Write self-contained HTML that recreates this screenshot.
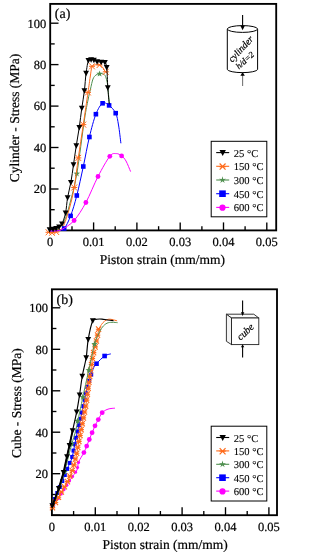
<!DOCTYPE html>
<html><head><meta charset="utf-8"><style>
html,body{margin:0;padding:0;background:#fff;}
svg{display:block;will-change:transform;text-rendering:geometricPrecision;}
</style></head><body>
<svg width="306" height="558" viewBox="0 0 306 558" font-family='"Liberation Serif", serif'>
<style>text{stroke:#000;stroke-width:0.2px;}</style>
<path d="M50.2,230.4H58.5" stroke="#000" stroke-width="1.35"/>
<path d="M50.2,209.7H54.7" stroke="#000" stroke-width="1.35"/>
<path d="M50.2,189.0H58.5" stroke="#000" stroke-width="1.35"/>
<text transform="translate(46.300000000000004,193.3) skewX(0.05)"   text-anchor="end" font-size="12.5">20</text>
<path d="M50.2,168.2H54.7" stroke="#000" stroke-width="1.35"/>
<path d="M50.2,147.5H58.5" stroke="#000" stroke-width="1.35"/>
<text transform="translate(46.300000000000004,151.8) skewX(0.05)"   text-anchor="end" font-size="12.5">40</text>
<path d="M50.2,126.8H54.7" stroke="#000" stroke-width="1.35"/>
<path d="M50.2,106.1H58.5" stroke="#000" stroke-width="1.35"/>
<text transform="translate(46.300000000000004,110.4) skewX(0.05)"   text-anchor="end" font-size="12.5">60</text>
<path d="M50.2,85.4H54.7" stroke="#000" stroke-width="1.35"/>
<path d="M50.2,64.6H58.5" stroke="#000" stroke-width="1.35"/>
<text transform="translate(46.300000000000004,68.9) skewX(0.05)"   text-anchor="end" font-size="12.5">80</text>
<path d="M50.2,43.9H54.7" stroke="#000" stroke-width="1.35"/>
<path d="M50.2,23.2H58.5" stroke="#000" stroke-width="1.35"/>
<text transform="translate(46.300000000000004,27.5) skewX(0.05)"   text-anchor="end" font-size="12.5">100</text>
<text transform="translate(50.2,245.9) skewX(0.05)"   text-anchor="middle" font-size="12.5">0</text>
<path d="M72.0,230.4V226.20000000000002" stroke="#000" stroke-width="1.35"/>
<path d="M93.6,230.4V222.4" stroke="#000" stroke-width="1.35"/>
<text transform="translate(93.6,245.9) skewX(0.05)"   text-anchor="middle" font-size="12.5">0.01</text>
<path d="M115.2,230.4V226.20000000000002" stroke="#000" stroke-width="1.35"/>
<path d="M136.9,230.4V222.4" stroke="#000" stroke-width="1.35"/>
<text transform="translate(136.9,245.9) skewX(0.05)"   text-anchor="middle" font-size="12.5">0.02</text>
<path d="M158.6,230.4V226.20000000000002" stroke="#000" stroke-width="1.35"/>
<path d="M180.2,230.4V222.4" stroke="#000" stroke-width="1.35"/>
<text transform="translate(180.2,245.9) skewX(0.05)"   text-anchor="middle" font-size="12.5">0.03</text>
<path d="M201.9,230.4V226.20000000000002" stroke="#000" stroke-width="1.35"/>
<path d="M223.5,230.4V222.4" stroke="#000" stroke-width="1.35"/>
<text transform="translate(223.5,245.9) skewX(0.05)"   text-anchor="middle" font-size="12.5">0.04</text>
<path d="M245.1,230.4V226.20000000000002" stroke="#000" stroke-width="1.35"/>
<path d="M266.8,230.4V222.4" stroke="#000" stroke-width="1.35"/>
<text transform="translate(266.8,245.9) skewX(0.05)"   text-anchor="middle" font-size="12.5">0.05</text>
<rect x="50.2" y="3.9" width="226.0" height="226.5" fill="none" stroke="#000" stroke-width="1.85"/>
<text transform="translate(162.4,263.9) skewX(0.05)"   text-anchor="middle" font-size="13.5">Piston strain (mm/mm)</text>
<text transform="translate(19.3,118.0) rotate(-90) skewX(0.05)" text-anchor="middle" font-size="13.5">Cylinder - Stress (MPa)</text>
<text transform="translate(54.800000000000004,18.2) skewX(0.05)"   font-size="14">(a)</text>
<path d="M50.0,231.0 C51.3,230.7 55.5,231.0 58.0,229.0 C60.5,227.0 63.0,223.3 65.0,219.0 C67.0,214.7 68.0,210.6 70.0,203.0 C72.0,195.4 74.4,187.5 76.8,173.7 C79.2,159.9 82.5,132.3 84.4,120.0 C86.3,107.7 87.0,105.2 88.0,100.0 C89.0,94.8 89.7,92.5 90.5,89.0 C91.3,85.5 92.1,81.3 93.0,79.0 C93.9,76.7 94.9,75.9 96.0,75.0 C97.1,74.1 98.4,73.7 99.6,73.5 C100.8,73.3 102.0,73.5 103.0,74.0 C104.0,74.5 104.8,74.6 105.5,76.3 C106.2,78.0 107.0,81.2 107.5,84.0 C108.0,86.8 108.1,89.8 108.4,93.0 C108.7,96.2 109.2,101.6 109.3,103.3" stroke="#4f8f4f" stroke-width="1.0" fill="none" stroke-linejoin="round"/>
<polygon points="76.80,170.30 77.62,172.57 80.03,172.65 78.13,174.13 78.80,176.45 76.80,175.10 74.80,176.45 75.47,174.13 73.57,172.65 75.98,172.57" fill="#4f8f4f"/>
<polygon points="99.60,70.40 100.42,72.67 102.83,72.75 100.93,74.23 101.60,76.55 99.60,75.20 97.60,76.55 98.27,74.23 96.37,72.75 98.78,72.67" fill="#4f8f4f"/>
<path d="M48.5,232.0 C49.1,232.1 50.6,232.6 51.9,232.5 C53.2,232.4 54.5,232.3 56.3,231.5 C58.1,230.7 60.5,231.4 62.7,227.5 C64.9,223.6 67.6,214.7 69.5,208.0 C71.4,201.3 72.7,195.8 74.2,187.5 C75.7,179.2 76.8,168.4 78.3,157.9 C79.8,147.4 81.7,135.5 83.3,124.6 C84.9,113.7 86.8,100.3 88.0,92.4 C89.2,84.5 89.5,81.2 90.2,77.0 C90.9,72.8 91.1,69.0 92.0,67.0 C92.9,65.0 94.2,65.1 95.5,64.8 C96.8,64.5 98.2,64.5 99.5,65.0 C100.8,65.5 102.0,66.6 103.0,67.8 C104.0,69.0 104.9,71.4 105.3,72.1" stroke="#ff6a1a" stroke-width="1.0" fill="none" stroke-linejoin="round"/>
<path d="M45.50,232.30H51.50M45.65,229.30L51.35,235.30M45.65,235.30L51.35,229.30" stroke="#ff6a1a" stroke-width="1.0" fill="none"/>
<path d="M48.90,232.80H54.90M49.05,229.80L54.75,235.80M49.05,235.80L54.75,229.80" stroke="#ff6a1a" stroke-width="1.0" fill="none"/>
<path d="M53.30,232.00H59.30M53.45,229.00L59.15,235.00M53.45,235.00L59.15,229.00" stroke="#ff6a1a" stroke-width="1.0" fill="none"/>
<path d="M71.20,187.50H77.20M71.35,184.50L77.05,190.50M71.35,190.50L77.05,184.50" stroke="#ff6a1a" stroke-width="1.0" fill="none"/>
<path d="M75.30,157.90H81.30M75.45,154.90L81.15,160.90M75.45,160.90L81.15,154.90" stroke="#ff6a1a" stroke-width="1.0" fill="none"/>
<path d="M80.30,124.60H86.30M80.45,121.60L86.15,127.60M80.45,127.60L86.15,121.60" stroke="#ff6a1a" stroke-width="1.0" fill="none"/>
<path d="M85.00,92.40H91.00M85.15,89.40L90.85,95.40M85.15,95.40L90.85,89.40" stroke="#ff6a1a" stroke-width="1.0" fill="none"/>
<path d="M89.00,66.30H95.00M89.15,63.30L94.85,69.30M89.15,69.30L94.85,63.30" stroke="#ff6a1a" stroke-width="1.0" fill="none"/>
<path d="M96.50,65.00H102.50M96.65,62.00L102.35,68.00M96.65,68.00L102.35,62.00" stroke="#ff6a1a" stroke-width="1.0" fill="none"/>
<path d="M102.80,71.80H108.80M102.95,68.80L108.65,74.80M102.95,74.80L108.65,68.80" stroke="#ff6a1a" stroke-width="1.0" fill="none"/>
<path d="M50.0,231.0 C51.3,230.9 55.6,230.9 58.0,230.5 C60.4,230.1 62.1,230.9 64.2,228.5 C66.3,226.1 68.5,221.4 70.6,215.9 C72.7,210.4 74.7,203.7 76.8,195.5 C78.9,187.3 81.2,176.2 83.3,166.5 C85.4,156.8 87.3,145.7 89.4,137.0 C91.5,128.3 93.7,119.8 95.9,114.2 C98.1,108.6 100.4,104.8 102.6,103.3 C104.8,101.8 106.9,103.8 109.1,105.4 C111.3,107.1 114.1,109.9 115.7,113.2 C117.3,116.5 117.6,120.0 118.5,125.0 C119.4,130.0 120.5,140.2 120.9,143.3" stroke="#0000ff" stroke-width="1.0" fill="none" stroke-linejoin="round"/>
<rect x="61.9" y="226.2" width="4.6" height="4.6" fill="#0000ff"/>
<rect x="68.3" y="213.6" width="4.6" height="4.6" fill="#0000ff"/>
<rect x="74.5" y="193.2" width="4.6" height="4.6" fill="#0000ff"/>
<rect x="81.0" y="164.2" width="4.6" height="4.6" fill="#0000ff"/>
<rect x="87.1" y="134.7" width="4.6" height="4.6" fill="#0000ff"/>
<rect x="93.6" y="111.9" width="4.6" height="4.6" fill="#0000ff"/>
<rect x="100.3" y="101.0" width="4.6" height="4.6" fill="#0000ff"/>
<rect x="106.8" y="103.1" width="4.6" height="4.6" fill="#0000ff"/>
<rect x="113.4" y="110.9" width="4.6" height="4.6" fill="#0000ff"/>
<path d="M50.0,231.0 C51.0,231.0 54.0,231.1 56.0,230.8 C58.0,230.6 58.7,231.2 61.7,229.5 C64.7,227.8 70.1,225.0 74.1,220.5 C78.1,216.0 81.9,209.8 85.9,202.5 C89.9,195.2 94.0,184.2 98.0,176.5 C102.0,168.8 106.8,160.1 109.8,156.3 C112.8,152.5 114.3,153.7 116.3,153.6 C118.3,153.5 120.0,154.7 121.6,155.9 C123.2,157.1 124.5,158.4 126.0,161.0 C127.5,163.6 129.8,169.8 130.6,171.6" stroke="#ff00ff" stroke-width="1.0" fill="none" stroke-linejoin="round"/>
<circle cx="74.1" cy="220.5" r="2.4" fill="#ff00ff"/>
<circle cx="85.9" cy="202.5" r="2.4" fill="#ff00ff"/>
<circle cx="98.0" cy="176.5" r="2.4" fill="#ff00ff"/>
<circle cx="109.8" cy="156.3" r="2.4" fill="#ff00ff"/>
<circle cx="121.6" cy="155.9" r="2.4" fill="#ff00ff"/>
<path d="M49.6,229.6 C50.2,229.5 52.0,229.3 53.1,229.1 C54.2,228.9 55.1,228.6 56.1,228.2 C57.1,227.8 58.1,227.5 59.1,226.8 C60.1,226.1 60.9,226.1 62.0,223.8 C63.1,221.5 64.7,217.2 65.6,212.8 C66.5,208.4 66.7,202.7 67.6,197.6 C68.5,192.5 69.9,187.7 70.9,182.2 C71.9,176.7 72.6,170.7 73.5,164.6 C74.4,158.5 75.3,151.7 76.3,145.5 C77.3,139.3 78.4,133.4 79.3,127.2 C80.2,121.0 80.9,114.2 81.8,108.1 C82.7,102.0 83.7,96.3 84.4,90.5 C85.1,84.7 85.4,78.0 86.1,73.0 C86.8,68.0 87.6,62.5 88.4,60.3 C89.2,58.1 90.2,59.6 91.1,59.6 C92.0,59.6 92.9,59.7 93.9,60.0 C94.9,60.3 95.9,61.3 97.1,61.6 C98.3,61.9 99.9,61.9 101.2,62.0 C102.5,62.1 104.0,61.5 104.9,62.4 C105.8,63.3 106.2,63.1 106.7,67.3 C107.2,71.5 107.4,81.3 107.8,87.5 C108.2,93.7 109.0,101.5 109.3,104.3" stroke="#000" stroke-width="1.0" fill="none" stroke-linejoin="round"/>
<path d="M46.70,227.28L52.50,227.28L49.60,232.79Z" fill="#000"/>
<path d="M50.20,226.78L56.00,226.78L53.10,232.29Z" fill="#000"/>
<path d="M53.20,225.88L59.00,225.88L56.10,231.39Z" fill="#000"/>
<path d="M56.20,224.48L62.00,224.48L59.10,229.99Z" fill="#000"/>
<path d="M59.10,221.48L64.90,221.48L62.00,226.99Z" fill="#000"/>
<path d="M62.70,210.48L68.50,210.48L65.60,215.99Z" fill="#000"/>
<path d="M64.70,195.28L70.50,195.28L67.60,200.79Z" fill="#000"/>
<path d="M68.00,179.88L73.80,179.88L70.90,185.39Z" fill="#000"/>
<path d="M70.60,162.28L76.40,162.28L73.50,167.79Z" fill="#000"/>
<path d="M73.40,143.18L79.20,143.18L76.30,148.69Z" fill="#000"/>
<path d="M76.40,124.88L82.20,124.88L79.30,130.39Z" fill="#000"/>
<path d="M78.90,105.78L84.70,105.78L81.80,111.29Z" fill="#000"/>
<path d="M81.50,88.18L87.30,88.18L84.40,93.69Z" fill="#000"/>
<path d="M83.20,70.68L89.00,70.68L86.10,76.19Z" fill="#000"/>
<path d="M85.50,57.98L91.30,57.98L88.40,63.49Z" fill="#000"/>
<path d="M88.20,57.28L94.00,57.28L91.10,62.79Z" fill="#000"/>
<path d="M91.00,57.68L96.80,57.68L93.90,63.19Z" fill="#000"/>
<path d="M94.20,59.28L100.00,59.28L97.10,64.79Z" fill="#000"/>
<path d="M98.30,59.68L104.10,59.68L101.20,65.19Z" fill="#000"/>
<path d="M102.00,60.08L107.80,60.08L104.90,65.59Z" fill="#000"/>
<path d="M103.80,64.98L109.60,64.98L106.70,70.49Z" fill="#000"/>
<path d="M104.90,85.18L110.70,85.18L107.80,90.69Z" fill="#000"/>
<rect x="211.2" y="141.3" width="55.6" height="75.5" fill="#fff" stroke="#000" stroke-width="1"/>
<path d="M216.2,152.6H229.2" stroke="#000" stroke-width="1.1"/>
<path d="M219.50,150.04L225.90,150.04L222.70,156.12Z" fill="#000"/>
<text transform="translate(233.7,156.6) skewX(0.05)"   font-size="10.6" style="stroke-width:0.1px">25 °C</text>
<path d="M216.2,166.3H229.2" stroke="#ff6a1a" stroke-width="1.1"/>
<path d="M219.50,166.60H225.70M219.66,163.50L225.54,169.70M219.66,169.70L225.54,163.50" stroke="#ff6a1a" stroke-width="1.2" fill="none"/>
<text transform="translate(233.7,170.3) skewX(0.05)"   font-size="10.6" style="stroke-width:0.1px">150 °C</text>
<path d="M216.2,180.0H229.2" stroke="#4f8f4f" stroke-width="1.1"/>
<polygon points="222.50,176.30 223.26,178.95 226.02,178.86 223.74,180.40 224.67,182.99 222.50,181.30 220.33,182.99 221.26,180.40 218.98,178.86 221.74,178.95" fill="#4f8f4f"/>
<text transform="translate(233.7,184.0) skewX(0.05)"   font-size="10.6" style="stroke-width:0.1px">300 °C</text>
<path d="M216.2,193.7H229.2" stroke="#0000ff" stroke-width="1.1"/>
<rect x="219.2" y="190.4" width="6.6" height="6.6" fill="#0000ff"/>
<text transform="translate(233.7,197.7) skewX(0.05)"   font-size="10.6" style="stroke-width:0.1px">450 °C</text>
<path d="M216.2,207.4H229.2" stroke="#ff00ff" stroke-width="1.1"/>
<circle cx="222.5" cy="207.7" r="3.1" fill="#ff00ff"/>
<text transform="translate(233.7,211.4) skewX(0.05)"   font-size="10.6" style="stroke-width:0.1px">600 °C</text>
<path d="M51.9,515.2H60.2" stroke="#000" stroke-width="1.35"/>
<path d="M51.9,494.5H56.4" stroke="#000" stroke-width="1.35"/>
<path d="M51.9,473.7H60.2" stroke="#000" stroke-width="1.35"/>
<text transform="translate(48.0,478.0) skewX(0.05)"   text-anchor="end" font-size="12.5">20</text>
<path d="M51.9,453.0H56.4" stroke="#000" stroke-width="1.35"/>
<path d="M51.9,432.2H60.2" stroke="#000" stroke-width="1.35"/>
<text transform="translate(48.0,436.5) skewX(0.05)"   text-anchor="end" font-size="12.5">40</text>
<path d="M51.9,411.5H56.4" stroke="#000" stroke-width="1.35"/>
<path d="M51.9,390.8H60.2" stroke="#000" stroke-width="1.35"/>
<text transform="translate(48.0,395.1) skewX(0.05)"   text-anchor="end" font-size="12.5">60</text>
<path d="M51.9,370.0H56.4" stroke="#000" stroke-width="1.35"/>
<path d="M51.9,349.3H60.2" stroke="#000" stroke-width="1.35"/>
<text transform="translate(48.0,353.6) skewX(0.05)"   text-anchor="end" font-size="12.5">80</text>
<path d="M51.9,328.5H56.4" stroke="#000" stroke-width="1.35"/>
<path d="M51.9,307.8H60.2" stroke="#000" stroke-width="1.35"/>
<text transform="translate(48.0,312.1) skewX(0.05)"   text-anchor="end" font-size="12.5">100</text>
<text transform="translate(51.9,530.7) skewX(0.05)"   text-anchor="middle" font-size="12.5">0</text>
<path d="M73.6,515.2V511.00000000000006" stroke="#000" stroke-width="1.35"/>
<path d="M95.3,515.2V507.20000000000005" stroke="#000" stroke-width="1.35"/>
<text transform="translate(95.3,530.7) skewX(0.05)"   text-anchor="middle" font-size="12.5">0.01</text>
<path d="M117.0,515.2V511.00000000000006" stroke="#000" stroke-width="1.35"/>
<path d="M138.7,515.2V507.20000000000005" stroke="#000" stroke-width="1.35"/>
<text transform="translate(138.7,530.7) skewX(0.05)"   text-anchor="middle" font-size="12.5">0.02</text>
<path d="M160.4,515.2V511.00000000000006" stroke="#000" stroke-width="1.35"/>
<path d="M182.1,515.2V507.20000000000005" stroke="#000" stroke-width="1.35"/>
<text transform="translate(182.1,530.7) skewX(0.05)"   text-anchor="middle" font-size="12.5">0.03</text>
<path d="M203.8,515.2V511.00000000000006" stroke="#000" stroke-width="1.35"/>
<path d="M225.5,515.2V507.20000000000005" stroke="#000" stroke-width="1.35"/>
<text transform="translate(225.5,530.7) skewX(0.05)"   text-anchor="middle" font-size="12.5">0.04</text>
<path d="M247.2,515.2V511.00000000000006" stroke="#000" stroke-width="1.35"/>
<path d="M268.9,515.2V507.20000000000005" stroke="#000" stroke-width="1.35"/>
<text transform="translate(268.9,530.7) skewX(0.05)"   text-anchor="middle" font-size="12.5">0.05</text>
<rect x="51.9" y="289.3" width="225.1" height="225.90000000000003" fill="none" stroke="#000" stroke-width="1.85"/>
<text transform="translate(165.2,548.7) skewX(0.05)"   text-anchor="middle" font-size="13.5">Piston strain (mm/mm)</text>
<text transform="translate(21.0,403.1) rotate(-90) skewX(0.05)" text-anchor="middle" font-size="13.5">Cube - Stress (MPa)</text>
<text transform="translate(56.5,303.6) skewX(0.05)"   font-size="14">(b)</text>
<path d="M52.0,507.5 C52.6,506.8 54.0,505.2 55.5,503.0 C57.0,500.8 58.5,498.3 60.9,494.5 C63.3,490.7 67.3,484.1 70.0,480.0 C72.7,475.9 75.6,473.0 77.0,470.0 C78.4,467.0 77.4,464.9 78.6,462.0 C79.8,459.1 82.6,455.2 83.9,452.6 C85.2,450.0 85.8,448.3 86.7,446.1 C87.6,443.9 88.4,441.7 89.3,439.5 C90.2,437.3 91.1,435.0 92.1,432.7 C93.0,430.4 94.0,428.0 95.0,425.8 C96.0,423.6 97.1,421.8 98.3,419.6 C99.5,417.4 100.8,414.4 102.2,412.7 C103.7,411.0 105.5,410.2 107.0,409.5 C108.5,408.8 109.7,408.7 111.0,408.5 C112.3,408.3 114.3,408.2 115.0,408.2" stroke="#ff00ff" stroke-width="1.0" fill="none" stroke-linejoin="round"/>
<circle cx="55.7" cy="502.7" r="1.6" fill="#ff00ff"/>
<circle cx="58.4" cy="498.4" r="1.6" fill="#ff00ff"/>
<circle cx="61.2" cy="494.0" r="1.6" fill="#ff00ff"/>
<circle cx="64.0" cy="489.6" r="1.6" fill="#ff00ff"/>
<circle cx="66.8" cy="485.2" r="1.6" fill="#ff00ff"/>
<circle cx="69.5" cy="480.8" r="1.6" fill="#ff00ff"/>
<circle cx="72.5" cy="476.5" r="1.6" fill="#ff00ff"/>
<circle cx="75.5" cy="472.2" r="1.6" fill="#ff00ff"/>
<circle cx="77.5" cy="467.5" r="1.6" fill="#ff00ff"/>
<circle cx="78.5" cy="462.4" r="1.6" fill="#ff00ff"/>
<circle cx="83.9" cy="452.6" r="2.4" fill="#ff00ff"/>
<circle cx="86.7" cy="446.1" r="2.4" fill="#ff00ff"/>
<circle cx="89.3" cy="439.5" r="2.4" fill="#ff00ff"/>
<circle cx="92.1" cy="432.7" r="2.4" fill="#ff00ff"/>
<circle cx="95.0" cy="425.8" r="2.4" fill="#ff00ff"/>
<circle cx="98.3" cy="419.6" r="2.4" fill="#ff00ff"/>
<circle cx="102.2" cy="412.7" r="2.4" fill="#ff00ff"/>
<path d="M52.0,507.0 C52.6,505.2 54.2,500.8 55.9,496.5 C57.6,492.2 60.3,485.8 62.3,481.0 C64.2,476.2 65.9,472.0 67.6,468.0 C69.2,464.0 70.8,462.1 72.2,457.0 C73.6,451.9 74.6,444.3 76.1,437.6 C77.6,430.9 79.7,422.7 81.0,416.8 C82.3,410.9 83.1,407.1 84.2,402.0 C85.3,396.9 86.0,391.4 87.5,386.0 C89.0,380.6 91.4,373.2 92.9,369.5 C94.4,365.8 94.5,365.9 96.5,363.7 C98.5,361.4 102.2,357.6 104.6,356.0 C107.0,354.4 109.8,354.2 110.8,353.9" stroke="#0000ff" stroke-width="1.0" fill="none" stroke-linejoin="round"/>
<rect x="50.7" y="503.1" width="4.0" height="4.0" fill="#0000ff"/>
<rect x="53.0" y="497.0" width="4.0" height="4.0" fill="#0000ff"/>
<rect x="55.3" y="491.0" width="4.0" height="4.0" fill="#0000ff"/>
<rect x="57.8" y="485.0" width="4.0" height="4.0" fill="#0000ff"/>
<rect x="60.3" y="479.0" width="4.0" height="4.0" fill="#0000ff"/>
<rect x="62.8" y="473.0" width="4.0" height="4.0" fill="#0000ff"/>
<rect x="65.2" y="466.9" width="4.0" height="4.0" fill="#0000ff"/>
<rect x="67.7" y="460.9" width="4.0" height="4.0" fill="#0000ff"/>
<rect x="70.2" y="454.9" width="4.0" height="4.0" fill="#0000ff"/>
<rect x="71.5" y="448.6" width="4.0" height="4.0" fill="#0000ff"/>
<rect x="72.8" y="442.2" width="4.0" height="4.0" fill="#0000ff"/>
<rect x="74.1" y="435.8" width="4.0" height="4.0" fill="#0000ff"/>
<rect x="75.5" y="429.5" width="4.0" height="4.0" fill="#0000ff"/>
<rect x="77.0" y="423.2" width="4.0" height="4.0" fill="#0000ff"/>
<rect x="78.5" y="416.8" width="4.0" height="4.0" fill="#0000ff"/>
<rect x="79.9" y="410.5" width="4.0" height="4.0" fill="#0000ff"/>
<rect x="81.3" y="404.1" width="4.0" height="4.0" fill="#0000ff"/>
<rect x="82.7" y="397.8" width="4.0" height="4.0" fill="#0000ff"/>
<rect x="84.0" y="391.4" width="4.0" height="4.0" fill="#0000ff"/>
<rect x="85.3" y="385.0" width="4.0" height="4.0" fill="#0000ff"/>
<rect x="87.2" y="378.8" width="4.0" height="4.0" fill="#0000ff"/>
<rect x="89.2" y="372.7" width="4.0" height="4.0" fill="#0000ff"/>
<rect x="94.2" y="361.4" width="4.6" height="4.6" fill="#0000ff"/>
<rect x="102.3" y="353.7" width="4.6" height="4.6" fill="#0000ff"/>
<path d="M52.0,508.5 C52.9,506.9 55.8,502.1 57.5,499.0 C59.2,495.9 60.8,493.0 62.5,490.0 C64.2,487.0 66.1,484.3 67.8,481.0 C69.5,477.7 71.1,474.0 72.5,470.0 C73.9,466.0 74.9,462.0 76.0,457.0 C77.1,452.0 78.0,446.5 79.2,440.0 C80.4,433.5 82.2,424.3 83.4,418.0 C84.6,411.7 85.2,409.7 86.4,402.1 C87.6,394.6 89.3,381.1 90.5,372.7 C91.7,364.3 92.7,356.9 93.6,352.0 C94.5,347.1 94.9,346.7 95.8,343.0 C96.7,339.3 97.8,333.1 98.8,330.0 C99.8,326.9 100.5,326.0 101.5,324.5 C102.5,323.0 103.4,322.1 104.5,321.2 C105.6,320.3 107.0,319.6 108.2,319.3 C109.5,319.0 110.5,319.2 112.0,319.5 C113.5,319.8 116.2,320.6 117.1,320.8" stroke="#ff6a1a" stroke-width="1.0" fill="none" stroke-linejoin="round"/>
<path d="M49.80,507.63H55.20M49.94,504.93L55.07,510.33M49.94,510.33L55.07,504.93" stroke="#ff6a1a" stroke-width="1.1" fill="none"/>
<path d="M52.81,502.44H58.21M52.94,499.74L58.07,505.14M52.94,505.14L58.07,499.74" stroke="#ff6a1a" stroke-width="1.1" fill="none"/>
<path d="M55.78,497.23H61.18M55.92,494.53L61.05,499.93M55.92,499.93L61.05,494.53" stroke="#ff6a1a" stroke-width="1.1" fill="none"/>
<path d="M58.70,491.99H64.10M58.83,489.29L63.96,494.69M58.83,494.69L63.96,489.29" stroke="#ff6a1a" stroke-width="1.1" fill="none"/>
<path d="M61.69,486.79H67.09M61.83,484.09L66.96,489.49M61.83,489.49L66.96,484.09" stroke="#ff6a1a" stroke-width="1.1" fill="none"/>
<path d="M64.74,481.62H70.14M64.87,478.92L70.00,484.32M64.87,484.32L70.00,478.92" stroke="#ff6a1a" stroke-width="1.1" fill="none"/>
<path d="M67.18,476.14H72.58M67.31,473.44L72.44,478.84M67.31,478.84L72.44,473.44" stroke="#ff6a1a" stroke-width="1.1" fill="none"/>
<path d="M69.53,470.62H74.93M69.67,467.92L74.80,473.32M69.67,473.32L74.80,467.92" stroke="#ff6a1a" stroke-width="1.1" fill="none"/>
<path d="M71.18,464.86H76.58M71.32,462.16L76.45,467.56M71.32,467.56L76.45,462.16" stroke="#ff6a1a" stroke-width="1.1" fill="none"/>
<path d="M72.74,459.07H78.14M72.88,456.37L78.01,461.77M72.88,461.77L78.01,456.37" stroke="#ff6a1a" stroke-width="1.1" fill="none"/>
<path d="M74.01,453.21H79.41M74.15,450.51L79.28,455.91M74.15,455.91L79.28,450.51" stroke="#ff6a1a" stroke-width="1.1" fill="none"/>
<path d="M75.12,447.31H80.52M75.26,444.61L80.39,450.01M75.26,450.01L80.39,444.61" stroke="#ff6a1a" stroke-width="1.1" fill="none"/>
<path d="M76.23,441.42H81.63M76.37,438.72L81.50,444.12M76.37,444.12L81.50,438.72" stroke="#ff6a1a" stroke-width="1.1" fill="none"/>
<path d="M77.35,435.52H82.75M77.49,432.82L82.62,438.22M77.49,438.22L82.62,432.82" stroke="#ff6a1a" stroke-width="1.1" fill="none"/>
<path d="M78.48,429.63H83.88M78.62,426.93L83.75,432.33M78.62,432.33L83.75,426.93" stroke="#ff6a1a" stroke-width="1.1" fill="none"/>
<path d="M79.61,423.73H85.01M79.74,421.03L84.87,426.43M79.74,426.43L84.87,421.03" stroke="#ff6a1a" stroke-width="1.1" fill="none"/>
<path d="M80.73,417.84H86.13M80.86,415.14L85.99,420.54M80.86,420.54L85.99,415.14" stroke="#ff6a1a" stroke-width="1.1" fill="none"/>
<path d="M81.84,411.95H87.24M81.98,409.25L87.11,414.65M81.98,414.65L87.11,409.25" stroke="#ff6a1a" stroke-width="1.1" fill="none"/>
<path d="M82.95,406.05H88.35M83.09,403.35L88.22,408.75M83.09,408.75L88.22,403.35" stroke="#ff6a1a" stroke-width="1.1" fill="none"/>
<path d="M83.95,400.14H89.35M84.09,397.44L89.22,402.84M84.09,402.84L89.22,397.44" stroke="#ff6a1a" stroke-width="1.1" fill="none"/>
<path d="M84.72,394.18H90.12M84.86,391.48L89.99,396.88M84.86,396.88L89.99,391.48" stroke="#ff6a1a" stroke-width="1.1" fill="none"/>
<path d="M85.49,388.23H90.89M85.63,385.53L90.76,390.93M85.63,390.93L90.76,385.53" stroke="#ff6a1a" stroke-width="1.1" fill="none"/>
<path d="M86.26,382.28H91.66M86.40,379.58L91.53,384.98M86.40,384.98L91.53,379.58" stroke="#ff6a1a" stroke-width="1.1" fill="none"/>
<path d="M87.03,376.33H92.43M87.17,373.63L92.30,379.03M87.17,379.03L92.30,373.63" stroke="#ff6a1a" stroke-width="1.1" fill="none"/>
<path d="M87.87,370.39H93.27M88.00,367.69L93.13,373.09M88.00,373.09L93.13,367.69" stroke="#ff6a1a" stroke-width="1.1" fill="none"/>
<path d="M88.80,364.47H94.20M88.94,361.77L94.07,367.17M88.94,367.17L94.07,361.77" stroke="#ff6a1a" stroke-width="1.1" fill="none"/>
<path d="M89.74,358.54H95.14M89.88,355.84L95.01,361.24M89.88,361.24L95.01,355.84" stroke="#ff6a1a" stroke-width="1.1" fill="none"/>
<path d="M90.91,352.66H96.31M91.05,349.96L96.18,355.36M91.05,355.36L96.18,349.96" stroke="#ff6a1a" stroke-width="1.1" fill="none"/>
<path d="M92.44,346.86H97.84M92.58,344.16L97.71,349.56M92.58,349.56L97.71,344.16" stroke="#ff6a1a" stroke-width="1.1" fill="none"/>
<path d="M93.69,340.99H99.09M93.82,338.29L98.95,343.69M93.82,343.69L98.95,338.29" stroke="#ff6a1a" stroke-width="1.1" fill="none"/>
<path d="M94.83,335.10H100.23M94.97,332.40L100.10,337.80M94.97,337.80L100.10,332.40" stroke="#ff6a1a" stroke-width="1.1" fill="none"/>
<path d="M95.86,329.19H101.26M96.00,326.49L101.13,331.89M96.00,331.89L101.13,326.49" stroke="#ff6a1a" stroke-width="1.1" fill="none"/>
<path d="M52.0,507.0 C53.2,504.0 57.4,494.8 59.5,489.0 C61.6,483.2 63.0,477.5 64.5,472.0 C66.0,466.5 67.4,460.7 68.6,456.0 C69.8,451.3 70.6,448.3 71.8,444.0 C73.0,439.7 74.5,435.3 75.8,430.0 C77.1,424.7 78.5,417.5 79.7,412.0 C80.9,406.5 81.3,404.2 82.8,397.2 C84.3,390.2 86.8,379.0 88.8,370.2 C90.8,361.4 92.9,350.1 94.5,344.1 C96.1,338.1 97.2,336.9 98.5,334.0 C99.8,331.1 101.1,328.8 102.5,327.0 C103.9,325.2 105.4,324.0 107.0,323.2 C108.6,322.4 110.2,322.4 112.0,322.3 C113.8,322.2 116.7,322.6 117.6,322.7" stroke="#4f8f4f" stroke-width="1.0" fill="none" stroke-linejoin="round"/>
<polygon points="64.50,468.60 65.32,470.87 67.73,470.95 65.83,472.43 66.50,474.75 64.50,473.40 62.50,474.75 63.17,472.43 61.27,470.95 63.68,470.87" fill="#4f8f4f"/>
<polygon points="71.80,440.60 72.62,442.87 75.03,442.95 73.13,444.43 73.80,446.75 71.80,445.40 69.80,446.75 70.47,444.43 68.57,442.95 70.98,442.87" fill="#4f8f4f"/>
<polygon points="77.50,417.60 78.32,419.87 80.73,419.95 78.83,421.43 79.50,423.75 77.50,422.40 75.50,423.75 76.17,421.43 74.27,419.95 76.68,419.87" fill="#4f8f4f"/>
<polygon points="82.80,393.80 83.62,396.07 86.03,396.15 84.13,397.63 84.80,399.95 82.80,398.60 80.80,399.95 81.47,397.63 79.57,396.15 81.98,396.07" fill="#4f8f4f"/>
<polygon points="88.80,366.80 89.62,369.07 92.03,369.15 90.13,370.63 90.80,372.95 88.80,371.60 86.80,372.95 87.47,370.63 85.57,369.15 87.98,369.07" fill="#4f8f4f"/>
<polygon points="94.50,340.70 95.32,342.97 97.73,343.05 95.83,344.53 96.50,346.85 94.50,345.50 92.50,346.85 93.17,344.53 91.27,343.05 93.68,342.97" fill="#4f8f4f"/>
<path d="M52.0,507.0 C52.0,506.8 51.2,508.6 52.3,505.5 C53.4,502.4 56.9,493.7 58.8,488.2 C60.7,482.7 62.2,477.6 63.6,472.3 C65.0,467.0 66.0,461.0 67.0,456.5 C68.0,452.0 68.6,449.5 69.5,445.2 C70.4,440.9 71.4,436.2 72.6,430.6 C73.8,425.0 75.5,417.8 76.7,411.8 C77.9,405.8 78.7,400.7 79.6,394.7 C80.5,388.7 81.2,382.2 82.3,376.0 C83.4,369.8 85.2,363.6 86.2,357.5 C87.2,351.4 87.1,345.5 88.2,339.4 C89.3,333.3 91.3,324.1 92.7,320.8 C94.1,317.5 95.0,319.6 96.5,319.3 C98.0,319.0 100.2,319.0 102.0,319.1 C103.8,319.2 105.6,319.8 107.5,320.0 C109.4,320.2 112.5,320.5 113.5,320.6" stroke="#000" stroke-width="1.15" fill="none" stroke-linejoin="round"/>
<path d="M52.0,507.0 L58.8,488.2 L63.6,472.3 L67.0,456.5 L69.5,445.2 L72.6,430.6" stroke="#000" stroke-width="1.9" fill="none" stroke-linejoin="round"/>
<path d="M49.40,503.18L55.20,503.18L52.30,508.69Z" fill="#000"/>
<path d="M55.90,485.88L61.70,485.88L58.80,491.39Z" fill="#000"/>
<path d="M60.70,469.98L66.50,469.98L63.60,475.49Z" fill="#000"/>
<path d="M64.10,454.18L69.90,454.18L67.00,459.69Z" fill="#000"/>
<path d="M66.60,442.88L72.40,442.88L69.50,448.39Z" fill="#000"/>
<path d="M69.70,428.28L75.50,428.28L72.60,433.79Z" fill="#000"/>
<path d="M73.80,409.48L79.60,409.48L76.70,414.99Z" fill="#000"/>
<path d="M76.70,392.38L82.50,392.38L79.60,397.89Z" fill="#000"/>
<path d="M79.40,373.68L85.20,373.68L82.30,379.19Z" fill="#000"/>
<path d="M83.30,355.18L89.10,355.18L86.20,360.69Z" fill="#000"/>
<path d="M85.30,337.08L91.10,337.08L88.20,342.59Z" fill="#000"/>
<path d="M89.90,318.28L95.70,318.28L92.80,323.79Z" fill="#000"/>
<rect x="211.2" y="426.2" width="55.6" height="74.8" fill="#fff" stroke="#000" stroke-width="1"/>
<path d="M216.2,437.5H229.2" stroke="#000" stroke-width="1.1"/>
<path d="M219.50,434.94L225.90,434.94L222.70,441.02Z" fill="#000"/>
<text transform="translate(233.7,441.5) skewX(0.05)"   font-size="10.6" style="stroke-width:0.1px">25 °C</text>
<path d="M216.2,450.9H229.2" stroke="#ff6a1a" stroke-width="1.1"/>
<path d="M219.50,451.20H225.70M219.66,448.10L225.54,454.30M219.66,454.30L225.54,448.10" stroke="#ff6a1a" stroke-width="1.2" fill="none"/>
<text transform="translate(233.7,454.9) skewX(0.05)"   font-size="10.6" style="stroke-width:0.1px">150 °C</text>
<path d="M216.2,464.3H229.2" stroke="#4f8f4f" stroke-width="1.1"/>
<polygon points="222.50,460.60 223.26,463.25 226.02,463.16 223.74,464.70 224.67,467.29 222.50,465.60 220.33,467.29 221.26,464.70 218.98,463.16 221.74,463.25" fill="#4f8f4f"/>
<text transform="translate(233.7,468.3) skewX(0.05)"   font-size="10.6" style="stroke-width:0.1px">300 °C</text>
<path d="M216.2,477.7H229.2" stroke="#0000ff" stroke-width="1.1"/>
<rect x="219.2" y="474.4" width="6.6" height="6.6" fill="#0000ff"/>
<text transform="translate(233.7,481.7) skewX(0.05)"   font-size="10.6" style="stroke-width:0.1px">450 °C</text>
<path d="M216.2,491.1H229.2" stroke="#ff00ff" stroke-width="1.1"/>
<circle cx="222.5" cy="491.4" r="3.1" fill="#ff00ff"/>
<text transform="translate(233.7,495.1) skewX(0.05)"   font-size="10.6" style="stroke-width:0.1px">600 °C</text>

<path d="M227.3,29V69.5 A15.2,3.4 0 0 0 257.6,69.5 V29" fill="#fff" stroke="#000" stroke-width="1"/>
<ellipse cx="242.45" cy="29" rx="15.15" ry="3.4" fill="#fff" stroke="#000" stroke-width="1"/>
<path d="M242.6,15V27" stroke="#000" stroke-width="1.1"/>
<path d="M240.4,25.8L242.6,30.2L244.8,25.8Z" fill="#000"/>
<path d="M242.6,86V75" stroke="#777" stroke-width="1.1"/>
<path d="M240.4,75.8L242.6,72L244.8,75.8Z" fill="#000"/>
<text transform="translate(243.1,51.2) rotate(-47) skewX(0.05)" text-anchor="middle" font-size="9.7" font-style="italic" stroke="#000" stroke-width="0.25">cylinder</text>
<text transform="translate(246.9,62.4) rotate(-42) skewX(0.05)" text-anchor="middle" font-size="8.7" font-style="italic" stroke="#000" stroke-width="0.25">h/d=2</text>


<path d="M226.4,314.2H253.8L258.8,318H231.5Z" fill="#fafafa" stroke="#222" stroke-width="0.9"/>
<path d="M226.4,314.2V341.3L231.5,344.6V318Z" fill="#f2f2f2" stroke="#222" stroke-width="0.9"/>
<rect x="231.5" y="318" width="27.3" height="26.6" fill="#fff" stroke="#222" stroke-width="0.9"/>
<path d="M242.6,300.6V313" stroke="#000" stroke-width="1.1"/>
<path d="M240.9,312.3L244.3,312.3L242.6,316Z" fill="#000"/>
<path d="M242.6,357.4V346.5" stroke="#000" stroke-width="1.1"/>
<path d="M240.9,347.2L244.3,347.2L242.6,344.2Z" fill="#000"/>
<text transform="translate(247.6,334.3) rotate(-43) skewX(0.05)" text-anchor="middle" font-size="10.2" font-style="italic" stroke="#000" stroke-width="0.25">cube</text>

</svg></body></html>
